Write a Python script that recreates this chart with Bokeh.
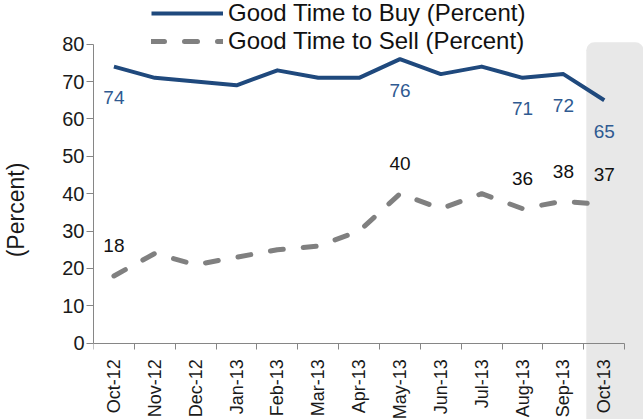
import math
from bokeh.plotting import figure
from bokeh.models import ColumnDataSource, FixedTicker, Range1d, BoxAnnotation, Legend, LegendItem
from bokeh.embed import file_html
from bokeh.resources import INLINE
from bokeh.core.properties import value

months = ["Oct-12", "Nov-12", "Dec-12", "Jan-13", "Feb-13", "Mar-13", "Apr-13",
          "May-13", "Jun-13", "Jul-13", "Aug-13", "Sep-13", "Oct-13"]
buy = [74, 71, 70, 69, 73, 71, 71, 76, 72, 74, 71, 72, 65]
sell = [18, 24, 21, 23, 25, 26, 30, 40, 36, 40, 36, 38, 37]
labeled = ["Oct-12", "May-13", "Aug-13", "Sep-13", "Oct-13"]
y_ticks = [0, 10, 20, 30, 40, 50, 60, 70, 80]
highlight = "Oct-13"

FONT = "Liberation Sans"
xs = list(range(len(months)))

p = figure(width=643, height=419, output_backend="svg", toolbar_location=None,
           x_range=Range1d(-0.5, 12.96), y_range=Range1d(-20.41, 91.69),
           min_border_left=89, min_border_right=0, min_border_top=0, min_border_bottom=0)
p.outline_line_color = None
p.grid.visible = False
p.background_fill_color = "white"
p.border_fill_color = "white"

hi = months.index(highlight)
shade = BoxAnnotation(left=hi - 0.44, top=80.5, fill_color="#E8E8E8", fill_alpha=1.0,
                      line_color=None, level="underlay", border_radius=(8, 8, 0, 0))
p.add_layout(shade)

# y axis
ya = p.yaxis[0]
ya.ticker = FixedTicker(ticks=y_ticks)
ya.bounds = (y_ticks[0], y_ticks[-1])
ya.major_tick_out = 7
ya.major_tick_in = 0
ya.minor_tick_out = 0
ya.minor_tick_in = 0
ya.axis_line_color = "#868686"
ya.major_tick_line_color = "#868686"
ya.major_label_text_font = FONT
ya.major_label_text_font_size = "20px"
ya.major_label_text_color = "#1a1a1a"
ya.major_label_standoff = 2
ya.axis_label = "(Percent)"
ya.axis_label_text_font = FONT
ya.axis_label_text_font_size = "23px"
ya.axis_label_text_font_style = "normal"
ya.axis_label_text_color = "#1a1a1a"
ya.axis_label_standoff = 30

# x axis (drawn at y = 0 inside the frame)
xa = p.xaxis[0]
xa.fixed_location = 0
xa.ticker = FixedTicker(ticks=xs, minor_ticks=[i - 0.5 for i in range(len(months) + 1)])
xa.major_label_overrides = {i: m for i, m in enumerate(months)}
xa.major_tick_out = 0
xa.major_tick_in = 0
xa.minor_tick_out = 6
xa.minor_tick_in = 0
xa.bounds = (-0.5, len(months) - 0.5)
xa.axis_line_color = "#868686"
xa.minor_tick_line_color = "#868686"
xa.major_label_orientation = math.pi / 2
xa.major_label_standoff = 10
xa.major_label_text_font = FONT
xa.major_label_text_font_size = "18px"
xa.major_label_text_color = "#1a1a1a"

src = ColumnDataSource(dict(x=xs, buy=buy, sell=sell))
r_buy = p.line("x", "buy", source=src, line_color="#1F497D", line_width=4, line_join="round")
r_sell = p.line("x", "sell", source=src, line_color="#808080", line_width=5,
                line_dash="13 20", line_cap="round")

idx = [months.index(m) for m in labeled]
lab = ColumnDataSource(dict(
    x=idx,
    buy=[buy[i] for i in idx], buy_t=[str(buy[i]) for i in idx],
    sell=[sell[i] for i in idx], sell_t=[str(sell[i]) for i in idx],
))
p.text("x", "buy", text="buy_t", source=lab, text_align="center", text_baseline="middle",
       y_offset=31, text_color="#2F5A91", text_font=value(FONT), text_font_size="19px")
p.text("x", "sell", text="sell_t", source=lab, text_align="center", text_baseline="middle",
       y_offset=-30, text_color="#111111", text_font=value(FONT), text_font_size="19px")

legend = Legend(items=[LegendItem(label="Good Time to Buy (Percent)", renderers=[r_buy]),
                       LegendItem(label="Good Time to Sell (Percent)", renderers=[r_sell])],
                location=(58, 364), glyph_width=72, glyph_height=20, label_standoff=5,
                padding=0, margin=0, spacing=0, label_text_font=FONT,
                label_text_font_size="24px", label_text_color="#111111",
                border_line_alpha=0, background_fill_alpha=0)
p.add_layout(legend)

open("out.html", "w").write(file_html(p, INLINE))
